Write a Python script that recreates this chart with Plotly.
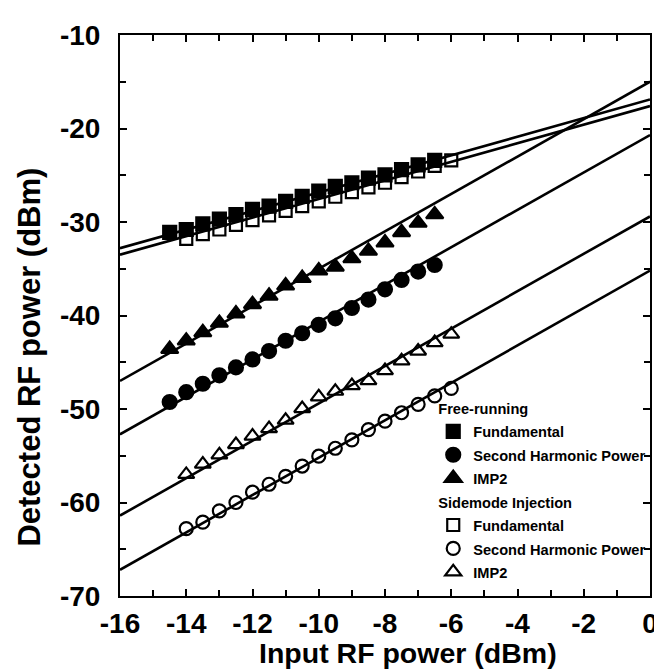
import plotly.graph_objects as go

# ---- data ----
x_free = [-14.5, -14, -13.5, -13, -12.5, -12, -11.5, -11, -10.5, -10, -9.5, -9, -8.5, -8, -7.5, -7, -6.5]
x_inj = [-14, -13.5, -13, -12.5, -12, -11.5, -11, -10.5, -10, -9.5, -9, -8.5, -8, -7.5, -7, -6.5, -6]

free_fund = [-31.1, -30.8, -30.2, -29.7, -29.2, -28.65, -28.3, -27.8, -27.25, -26.7, -26.2, -25.8, -25.3, -24.95, -24.4, -23.9, -23.4]
free_sh = [-49.25, -48.2, -47.3, -46.4, -45.55, -44.7, -43.8, -42.7, -41.9, -41.0, -40.3, -39.2, -38.3, -37.2, -36.2, -35.3, -34.6]
free_imp2 = [-43.6, -42.7, -41.8, -40.8, -39.8, -38.8, -37.9, -36.8, -36.0, -35.2, -34.8, -33.9, -33.1, -32.2, -31.1, -30.1, -29.2]

inj_fund = [-31.8, -31.3, -30.8, -30.3, -29.8, -29.3, -28.8, -28.3, -27.8, -27.3, -26.8, -26.3, -25.8, -25.2, -24.6, -24.0, -23.4]
inj_sh = [-62.8, -62.1, -60.9, -60.0, -58.9, -58.05, -57.2, -56.1, -55.05, -54.2, -53.3, -52.2, -51.3, -50.4, -49.5, -48.6, -47.8]
inj_imp2 = [-57.0, -55.9, -54.9, -53.8, -52.9, -52.1, -51.2, -49.95, -48.7, -48.1, -47.5, -46.96, -45.9, -44.85, -43.8, -42.9, -42.0]

# linear fits (values at x = -16 and x = 0)
fit_x = [-16, 0]
fit_free_fund = [-32.8, -16.9]
fit_inj_fund = [-33.5, -17.6]
fit_free_sh = [-52.7, -20.7]
fit_free_imp2 = [-47.0, -15.0]
fit_inj_sh = [-67.2, -35.2]
fit_inj_imp2 = [-61.4, -29.4]

x_ticks = [-16, -14, -12, -10, -8, -6, -4, -2, 0]
y_ticks = [-70, -60, -50, -40, -30, -20, -10]

x_title = "Input RF power (dBm)"
y_title = "Detected RF power (dBm)"

FONT = "Liberation Sans"

def small(t):
    return '<span style="font-size:14.6px">' + t + '</span>'

fig = go.Figure()

for fy in [fit_free_fund, fit_inj_fund, fit_free_sh, fit_free_imp2, fit_inj_sh, fit_inj_imp2]:
    fig.add_trace(go.Scatter(x=fit_x, y=fy, mode="lines", showlegend=False,
                             line=dict(color="black", width=2.6), hoverinfo="skip"))

series = [
    ("Free-running", "Fundamental", x_free, free_fund, "square", 13),
    ("Free-running", "Second Harmonic Power", x_free, free_sh, "circle", 14),
    ("Free-running", "IMP2", x_free, free_imp2, "triangle-up", 15),
    ("Sidemode Injection", "Fundamental", x_inj, inj_fund, "square-open", 12),
    ("Sidemode Injection", "Second Harmonic Power", x_inj, inj_sh, "circle-open", 13),
    ("Sidemode Injection", "IMP2", x_inj, inj_imp2, "triangle-up-open", 14),
]
for grp, name, xs, ys, sym, sz in series:
    fig.add_trace(go.Scatter(
        x=xs, y=ys, mode="markers", name=small(name),
        legendgroup=grp,
        legendgrouptitle=dict(text=small(grp), font=dict(family=FONT, size=15.7, color="black", weight="bold")),
        marker=dict(symbol=sym, size=sz, color="black",
                    line=dict(color="black", width=2.2)),
    ))

axis_common = dict(
    showline=True, linecolor="black", linewidth=2, mirror="ticks",
    ticks="inside", ticklen=7, tickwidth=2, tickcolor="black",
    showgrid=False, zeroline=False,
    tickfont=dict(family=FONT, size=28, color="black", weight="bold"),
)

fig.update_xaxes(range=[-16, 0], tickvals=x_ticks, ticktext=[str(v) for v in x_ticks],
                 minor=dict(dtick=1, ticks="inside", ticklen=6, tickwidth=2, tickcolor="black"),
                 ticklabelstandoff=1, **axis_common)
fig.update_yaxes(range=[-70, -10], tickvals=y_ticks, ticktext=[str(v) for v in y_ticks],
                 minor=dict(dtick=5, ticks="inside", ticklen=6, tickwidth=2, tickcolor="black"),
                 ticklabelstandoff=12, **axis_common)

fig.add_annotation(text=x_title, xref="x", x=-7.3, yref="paper", y=0, yshift=-57,
                   xanchor="center", yanchor="middle", showarrow=False,
                   font=dict(family=FONT, size=28.5, color="black", weight="bold"))
fig.add_annotation(text=y_title, xref="paper", x=0, xshift=-90, yref="y", y=-44.5,
                   xanchor="center", yanchor="middle", textangle=-90, showarrow=False,
                   font=dict(family=FONT, size=31, color="black", weight="bold"))

fig.update_layout(
    width=662, height=670,
    margin=dict(l=112, r=12, t=20, b=82),
    paper_bgcolor="white", plot_bgcolor="white",
    legend=dict(x=0.591, y=0.365, xanchor="left", yanchor="top",
                bgcolor="rgba(0,0,0,0)", tracegroupgap=0,
                font=dict(family=FONT, size=15.7, color="black", weight="bold")),
)

fig.write_html("out.html")
